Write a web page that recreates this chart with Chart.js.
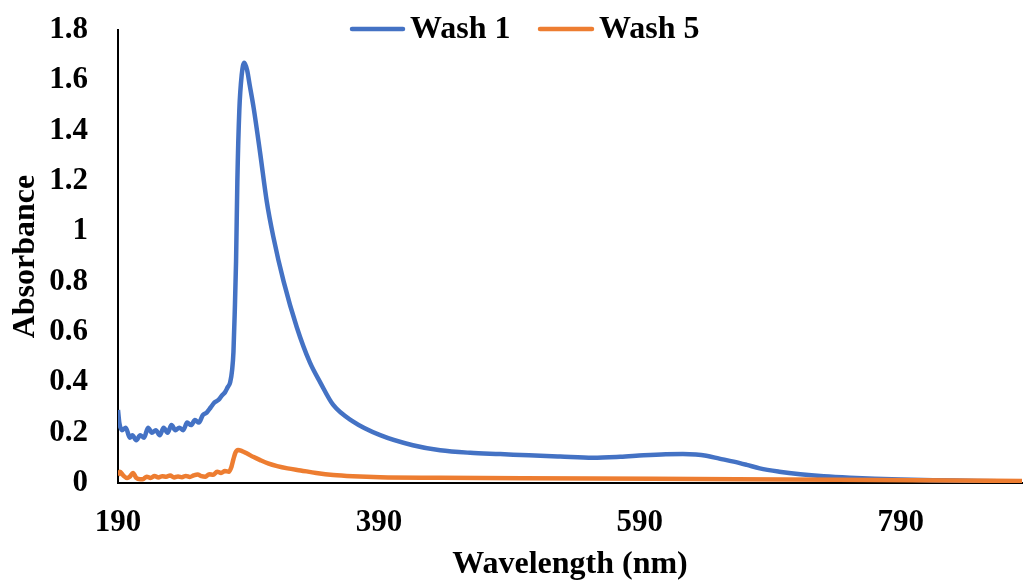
<!DOCTYPE html>
<html>
<head>
<meta charset="utf-8">
<script src="https://cdn.jsdelivr.net/npm/chart.js@4/dist/chart.umd.min.js"></script>
<style>
  html, body { margin: 0; padding: 0; background: #fff; }
  #wrap { width: 1024px; height: 582px; }
</style>
</head>
<body>
<div id="wrap"><canvas id="c" width="1024" height="582"></canvas></div>
<script>
const seriesNames = ['Wash 1', 'Wash 5'];
const xTickValues = [190, 390, 590, 790];
const yTickValues = [0, 0.2, 0.4, 0.6, 0.8, 1, 1.2, 1.4, 1.6, 1.8];

const wash1Wavelength = [190, 191, 193, 196, 199, 201, 204, 207, 210, 213, 216, 219, 222, 225, 228, 231, 234, 237, 240, 243, 246, 249, 252, 255, 258, 261, 264, 267, 270, 272, 274, 276, 277.5, 278.5, 279.5, 280.5, 281.5, 283, 284.8, 286.8, 289, 291, 294, 299, 304, 309, 317, 327, 337, 345, 355, 370, 391, 416, 437, 460, 483, 505, 529, 554, 575, 593, 610, 623, 633, 641, 651, 662, 672, 682, 697, 713, 731, 751, 770, 790, 815, 840, 865, 883];
const wash1Absorbance = [0.29, 0.24, 0.21, 0.22, 0.18, 0.19, 0.17, 0.19, 0.18, 0.22, 0.20, 0.21, 0.19, 0.22, 0.20, 0.23, 0.21, 0.22, 0.21, 0.24, 0.23, 0.25, 0.24, 0.27, 0.28, 0.30, 0.32, 0.33, 0.35, 0.36, 0.38, 0.40, 0.45, 0.52, 0.68, 0.88, 1.20, 1.48, 1.62, 1.67, 1.64, 1.58, 1.49, 1.31, 1.12, 0.98, 0.80, 0.62, 0.48, 0.40, 0.31, 0.245, 0.19, 0.15, 0.13, 0.12, 0.115, 0.11, 0.105, 0.10, 0.104, 0.110, 0.114, 0.115, 0.113, 0.108, 0.097, 0.085, 0.072, 0.058, 0.045, 0.035, 0.027, 0.021, 0.017, 0.014, 0.011, 0.009, 0.007, 0.006];

const wash5Wavelength = [190, 191.5, 194, 197, 199, 201.5, 204, 207, 209, 212, 215, 218, 221, 224, 227, 230, 233, 236, 239, 242, 245, 248, 251, 254, 257, 260, 263, 266, 269, 272, 275, 277, 278.5, 280, 282, 285, 288.6, 294, 299, 305, 312, 320, 330, 342, 355, 370, 391, 437, 500, 600, 700, 800, 883];
const wash5Absorbance = [0.03, 0.045, 0.03, 0.02, 0.025, 0.04, 0.02, 0.015, 0.015, 0.025, 0.02, 0.028, 0.022, 0.027, 0.025, 0.03, 0.022, 0.026, 0.023, 0.028, 0.024, 0.03, 0.034, 0.027, 0.025, 0.035, 0.033, 0.045, 0.04, 0.048, 0.045, 0.065, 0.095, 0.12, 0.131, 0.127, 0.118, 0.103, 0.091, 0.078, 0.067, 0.058, 0.05, 0.04, 0.032, 0.027, 0.023, 0.021, 0.019, 0.017, 0.014, 0.011, 0.008];

const FONT = "'Liberation Serif', 'Times New Roman', serif";

function pairs(xs, ys) { return xs.map((x, i) => ({ x: x, y: ys[i] })); }

const legendPlugin = {
  id: 'customLegend',
  afterDraw(chart) {
    const ctx = chart.ctx;
    const items = [
      { x0: 352, x1: 403, tx: 410 },
      { x0: 540, x1: 592, tx: 599 }
    ];
    const y = 29;
    ctx.save();
    ctx.font = 'bold 32px ' + FONT;
    ctx.textBaseline = 'middle';
    ctx.textAlign = 'left';
    chart.data.datasets.forEach((ds, i) => {
      const it = items[i];
      ctx.strokeStyle = ds.borderColor;
      ctx.lineWidth = 4.5;
      ctx.lineCap = 'round';
      ctx.beginPath();
      ctx.moveTo(it.x0, y);
      ctx.lineTo(it.x1, y);
      ctx.stroke();
      ctx.fillStyle = '#000';
      ctx.fillText(ds.label, it.tx, y + 1);
    });
    ctx.restore();
  }
};

new Chart(document.getElementById('c'), {
  type: 'line',
  data: {
    datasets: [
      { label: seriesNames[0], data: pairs(wash1Wavelength, wash1Absorbance), borderColor: '#4472C4', borderWidth: 4.5, pointRadius: 0, cubicInterpolationMode: 'monotone', fill: false, order: 1 },
      { label: seriesNames[1], data: pairs(wash5Wavelength, wash5Absorbance), borderColor: '#ED7D31', borderWidth: 4.5, pointRadius: 0, cubicInterpolationMode: 'monotone', fill: false, order: 0 }
    ]
  },
  options: {
    responsive: false,
    animation: false,
    layout: { padding: { top: 30, right: 2, left: 0, bottom: 0 } },
    plugins: { legend: { display: false }, tooltip: { enabled: false } },
    scales: {
      x: {
        type: 'linear',
        min: 190,
        max: 883,
        grid: { display: false, drawTicks: false },
        border: { display: true, color: '#000', width: 2 },
        afterBuildTicks: (scale) => { scale.ticks = xTickValues.map(v => ({ value: v })); },
        afterFit: (scale) => { scale.height = 99; scale.paddingLeft = 0; scale.paddingRight = 0; },
        ticks: { color: '#000', padding: 21, maxRotation: 0, autoSkip: false, font: { family: FONT, size: 31, weight: 'bold' } },
        title: { display: true, text: 'Wavelength (nm)', color: '#000', padding: { top: 0, bottom: 0 }, font: { family: FONT, size: 32, weight: 'bold', lineHeight: 1.1 } }
      },
      y: {
        type: 'linear',
        min: 0,
        max: 1.8,
        grid: { display: false, drawTicks: false },
        border: { display: true, color: '#000', width: 2 },
        afterBuildTicks: (scale) => { scale.ticks = yTickValues.map(v => ({ value: v })); },
        afterFit: (scale) => { scale.width = 118; scale.paddingTop = 0; scale.paddingBottom = 0; },
        ticks: { color: '#000', padding: 30, autoSkip: false, font: { family: FONT, size: 31, weight: 'bold' }, callback: (v) => String(Math.round(v * 10) / 10) },
        title: { display: true, text: 'Absorbance', color: '#000', padding: { top: 7, bottom: 0 }, font: { family: FONT, size: 32, weight: 'bold', lineHeight: 1.2 } }
      }
    }
  },
  plugins: [legendPlugin]
});
</script>
</body>
</html>
